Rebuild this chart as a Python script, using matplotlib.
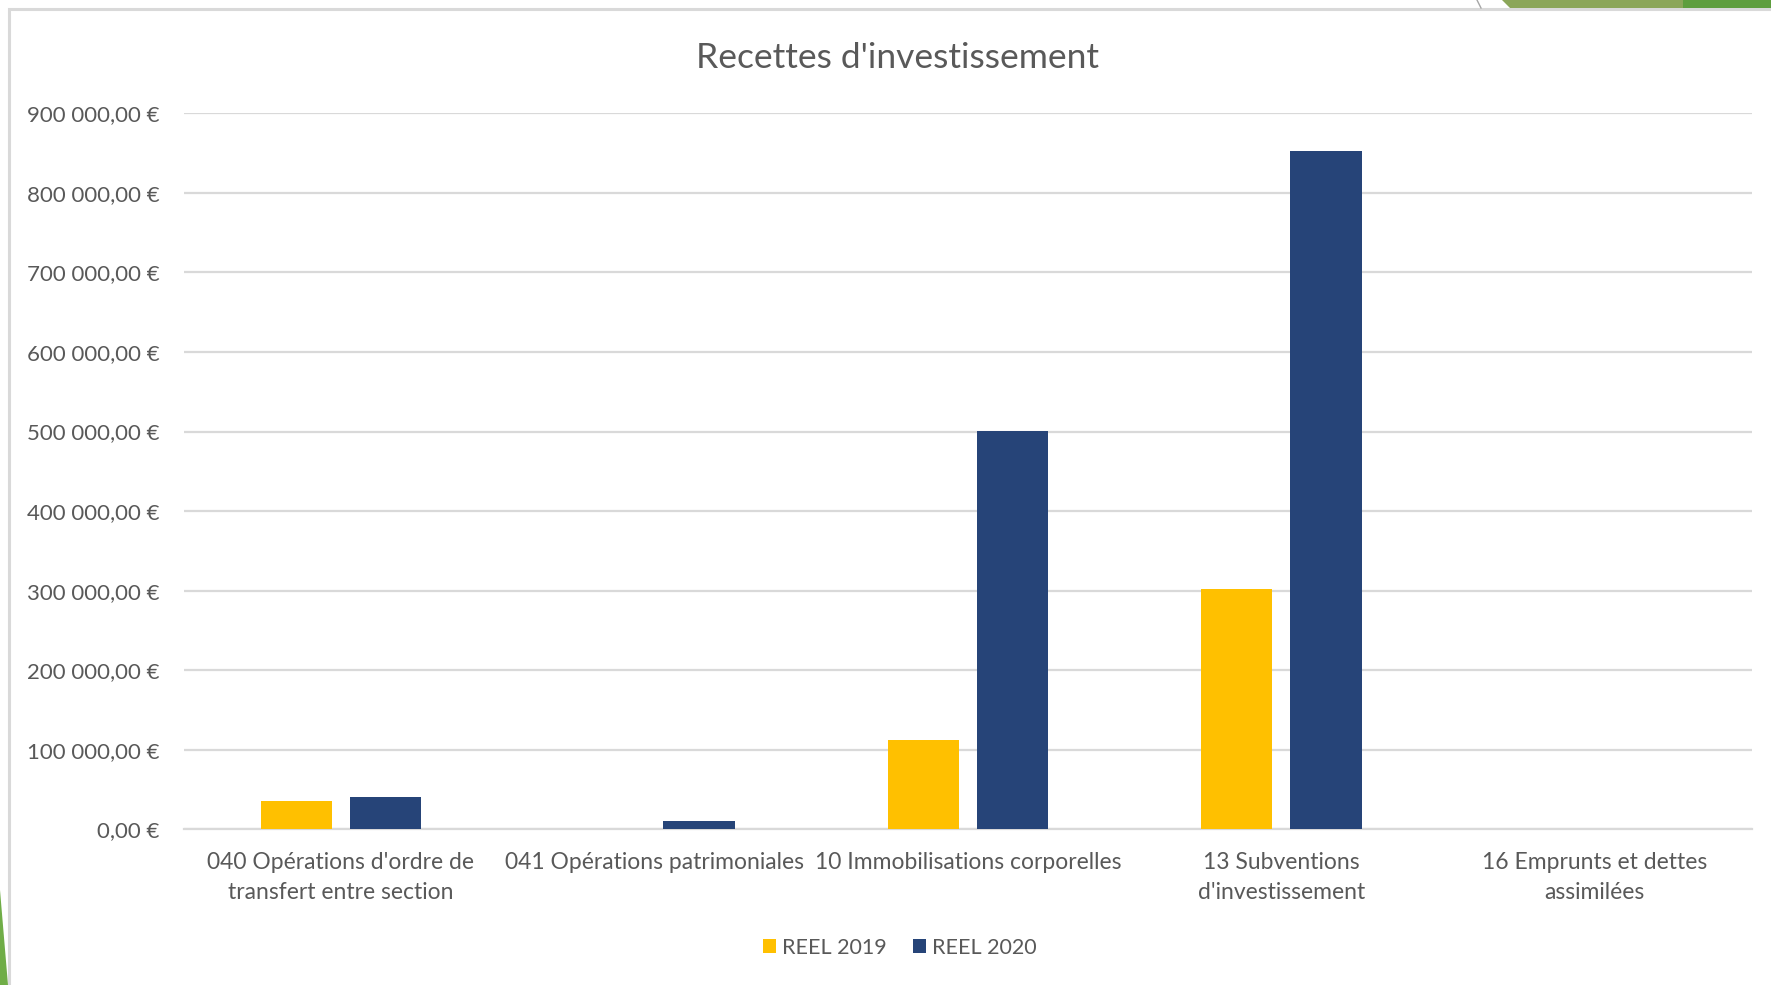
import numpy as np
import matplotlib.pyplot as plt
from matplotlib.patches import Rectangle, Polygon
from matplotlib.lines import Line2D
from matplotlib.ticker import FuncFormatter

plt.rcParams['font.family'] = ['Lato', 'DejaVu Sans']

# Data
categories = ["040 Opérations d'ordre de\ntransfert entre section",
              "041 Opérations patrimoniales",
              "10 Immobilisations corporelles",
              "13 Subventions\nd'investissement",
              "16 Emprunts et dettes\nassimilées"]
reel_2019 = [35500, 0, 112000, 302000, 0]
reel_2020 = [41000, 10000, 501000, 853000, 0]
series_names = ['REEL 2019', 'REEL 2020']

txt_col = '#595959'
grid_col = '#D9D9D9'
col_2019 = '#FFC000'
col_2020 = '#264478'

fig = plt.figure(figsize=(17.71, 9.85), dpi=100)
ax = fig.add_axes([0.104, 0.158, 0.885, 0.727])

x = np.arange(len(categories))
w = 0.227
off = 0.1425
ax.bar(x - off, reel_2019, width=w, color=col_2019, label=series_names[0], zorder=3)
ax.bar(x + off, reel_2020, width=w, color=col_2020, label=series_names[1], zorder=3)

ax.set_xlim(-0.5, len(categories) - 0.5)
ax.set_ylim(0, 900000)
ax.set_yticks(np.arange(0, 900001, 100000))


def euro(v, pos):
    s = '{:,.2f}'.format(v).replace(',', ' ').replace('.', ',')
    return s + ' €'


ax.yaxis.set_major_formatter(FuncFormatter(euro))
ax.grid(axis='y', color=grid_col, linewidth=1.6, zorder=0)
for sp in ['top', 'right', 'left']:
    ax.spines[sp].set_visible(False)
ax.spines['bottom'].set_color(grid_col)
ax.spines['bottom'].set_linewidth(1.6)
ax.tick_params(axis='y', length=0, pad=18, labelsize=16, labelcolor=txt_col)
ax.tick_params(axis='x', length=0, pad=16, labelsize=16.5, labelcolor=txt_col)
ax.set_xticks(x)
ax.set_xticklabels(categories, linespacing=1.55)

fig.text(0.507, 0.941, "Recettes d'investissement", ha='center', va='center',
         fontsize=25.5, color=txt_col)

ax.legend(loc='center', bbox_to_anchor=(0.508, 0.038), bbox_transform=fig.transFigure,
          ncol=2, frameon=False, fontsize=15.5, labelcolor=txt_col,
          handlelength=0.6, handleheight=0.6, handletextpad=0.3, columnspacing=1.2)

# slide frame and decorations
fig.patches.append(Rectangle((9 / 1771, -0.05), 1.1, 1 - 9 / 985 + 0.05,
                             transform=fig.transFigure, fill=False,
                             edgecolor='#D9D9D9', linewidth=2.2))
fig.patches.append(Polygon([(1502 / 1771, 1), (1683 / 1771, 1), (1683 / 1771, 1 - 8 / 985),
                            (1510 / 1771, 1 - 8 / 985)], closed=True,
                           transform=fig.transFigure, facecolor='#8BA659', edgecolor='none'))
fig.patches.append(Polygon([(1683 / 1771, 1), (1, 1), (1, 1 - 8 / 985), (1683 / 1771, 1 - 8 / 985)],
                           closed=True, transform=fig.transFigure,
                           facecolor='#5E9E3E', edgecolor='none'))
fig.lines.append(Line2D([1477 / 1771, 1481 / 1771], [1, 1 - 8 / 985], transform=fig.transFigure,
                        color='#A6A6A6', linewidth=1))
fig.patches.append(Polygon([(0, 1 - 890 / 985), (8 / 1771, 1 - 985 / 985), (0, 0)], closed=True,
                           transform=fig.transFigure, facecolor='#70AD47', edgecolor='none'))

fig.savefig('out.png', dpi=100)
